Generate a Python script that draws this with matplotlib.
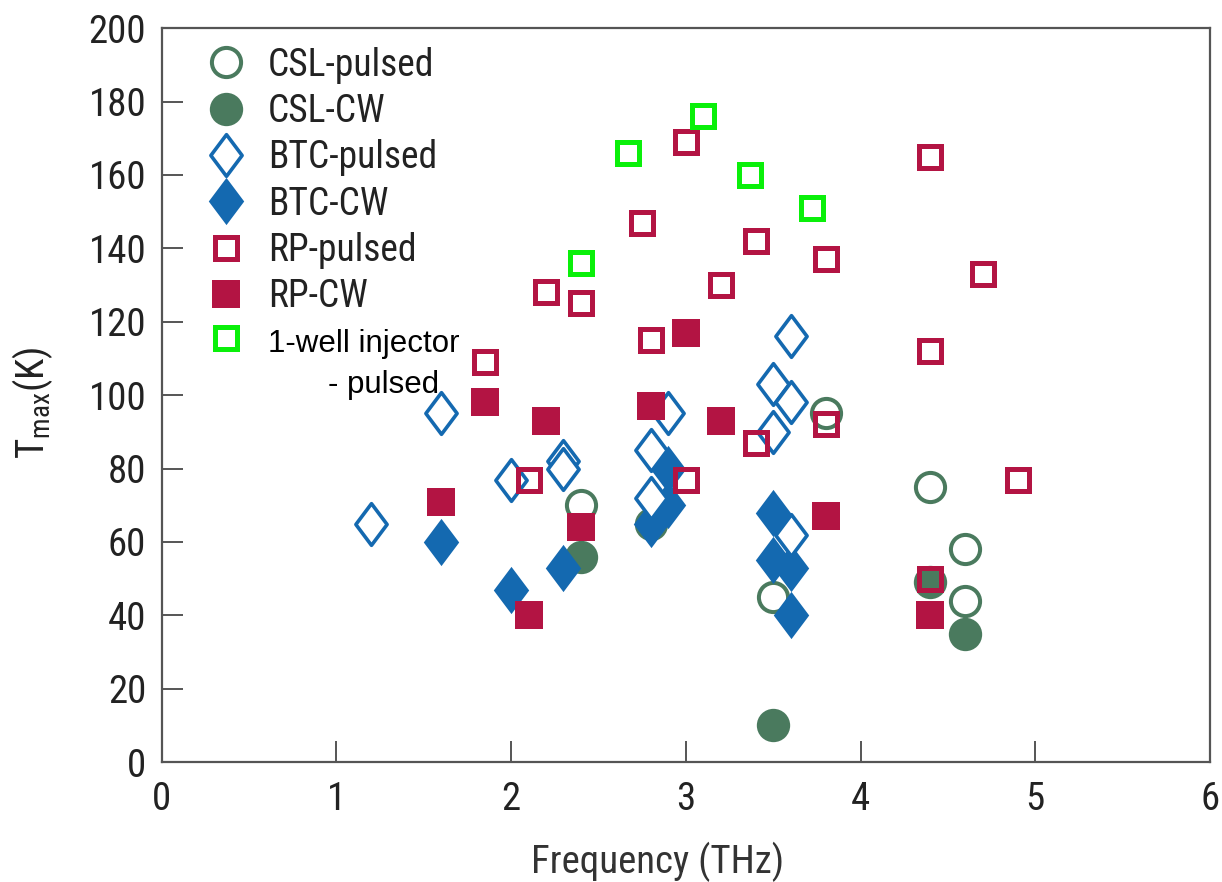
import numpy as np
import matplotlib
matplotlib.use("Agg")
import matplotlib.pyplot as plt
from matplotlib.path import Path
from matplotlib.lines import Line2D

plt.rcParams["font.family"] = ["Roboto Condensed", "DejaVu Sans"]
plt.rcParams["mathtext.fontset"] = "custom"
plt.rcParams["mathtext.rm"] = "Roboto Condensed"

# max operating temperature vs lasing frequency, per design family
csl_pulsed_f = [2.4, 3.5, 3.8, 4.4, 4.6, 4.6]
csl_pulsed_t = [70, 45, 95, 75, 58, 44]
csl_cw_f = [2.4, 2.8, 3.5, 4.4, 4.6]
csl_cw_t = [56, 65, 10, 49, 35]

btc_pulsed_f = [1.2, 1.6, 2.0, 2.3, 2.3, 2.8, 2.8, 2.9, 3.5, 3.5, 3.6, 3.6, 3.6]
btc_pulsed_t = [65, 95, 77, 82, 80, 85, 72, 95, 103, 90, 116, 98, 62]
btc_cw_f = [1.6, 2.0, 2.3, 2.8, 2.9, 2.9, 3.5, 3.5, 3.6, 3.6]
btc_cw_t = [60, 47, 53, 65, 70, 80, 68, 55, 53, 40]

rp_pulsed_f = [1.85, 2.1, 2.2, 2.4, 2.75, 2.8, 3.0, 3.0, 3.2, 3.4, 3.4,
               3.8, 3.8, 4.4, 4.4, 4.4, 4.7, 4.9]
rp_pulsed_t = [109, 77, 128, 125, 147, 115, 169, 77, 130, 142, 87,
               137, 92, 165, 112, 50, 133, 77]
rp_cw_f = [1.6, 1.85, 2.1, 2.2, 2.4, 2.8, 3.0, 3.2, 3.8, 4.4]
rp_cw_t = [71, 98, 40, 93, 64, 97, 117, 93, 67, 40]

one_well_f = [2.4, 2.67, 3.1, 3.37, 3.72]
one_well_t = [136, 166, 176, 160, 151]

GREEN = "#4a7a5e"
BLUE = "#1469b0"
RED = "#b31443"
LIME = "#0af00a"
SPINE = "#555555"

diamond = Path([(0, 1), (0.75, 0), (0, -1), (-0.75, 0), (0, 1)], closed=True)

styles = {
    "CSL-pulsed": dict(marker="o", ms=21, mew=2.9, mec=GREEN, mfc="none"),
    "CSL-CW": dict(marker="o", ms=24, mew=0, mec=GREEN, mfc=GREEN),
    "BTC-pulsed": dict(marker=diamond, ms=30, mew=2.6, mec=BLUE, mfc="white"),
    "BTC-CW": dict(marker=diamond, ms=34, mew=0, mec=BLUE, mfc=BLUE),
    "RP-pulsed": dict(marker="s", ms=16.5, mew=3.6, mec=RED, mfc="none"),
    "RP-CW": dict(marker="s", ms=20, mew=0, mec=RED, mfc=RED),
    "1-well injector": dict(marker="s", ms=16.5, mew=3.6, mec=LIME, mfc="none"),
}

fig = plt.figure(figsize=(12.22, 8.82), dpi=100)
ax = fig.add_axes([0.1322, 0.136, 0.858, 0.832])

ax.plot(csl_pulsed_f, csl_pulsed_t, ls="none", **styles["CSL-pulsed"])
ax.plot(csl_cw_f, csl_cw_t, ls="none", **styles["CSL-CW"])
ax.plot(btc_cw_f, btc_cw_t, ls="none", **styles["BTC-CW"])
ax.plot(btc_pulsed_f, btc_pulsed_t, ls="none", **styles["BTC-pulsed"])
ax.plot(rp_pulsed_f, rp_pulsed_t, ls="none", **styles["RP-pulsed"])
ax.plot(rp_cw_f, rp_cw_t, ls="none", **styles["RP-CW"])
ax.plot(one_well_f, one_well_t, ls="none", **styles["1-well injector"])

ax.set_xlim(0, 6)
ax.set_ylim(0, 200)
ax.set_xticks(range(0, 7))
ax.set_yticks(range(0, 201, 20))
ax.tick_params(direction="in", length=15, width=1.4, color=SPINE,
               labelsize=28, labelcolor="#222222", top=False, right=False)
ax.tick_params(axis="x", pad=14)
ax.tick_params(axis="y", pad=11)
for sp in ax.spines.values():
    sp.set_color(SPINE)
    sp.set_linewidth(1.6)

ax.set_xlabel("Frequency (THz)", fontsize=28, color="#333333")
ax.xaxis.set_label_coords(0.4735, -0.108)
ax.set_ylabel(r"T$_{\mathregular{max}}$(K)", fontsize=28, color="#222222")
ax.yaxis.set_label_coords(-0.102, 0.49)

order = ["CSL-pulsed", "CSL-CW", "BTC-pulsed", "BTC-CW", "RP-pulsed", "RP-CW", "1-well injector"]
handles = [Line2D([], [], ls="none", **styles[k]) for k in order]
leg = ax.legend(handles, order, loc="upper left", bbox_to_anchor=(0.042, 0.975),
                frameon=False, fontsize=27, borderpad=0, borderaxespad=0,
                handlelength=1.11, handleheight=0.75, handletextpad=0.556,
                labelspacing=0.25)
for t in leg.get_texts()[:-1]:
    t.set_color("#222222")
leg.get_texts()[-1].set_family(["Liberation Sans", "DejaVu Sans"])
leg.get_texts()[-1].set_fontsize(22.5)
leg.get_texts()[-1].set_color("black")
ax.text(0.159, 0.514, "- pulsed", transform=ax.transAxes, fontsize=22.5,
        family=["Liberation Sans", "DejaVu Sans"], va="center", ha="left")

fig.savefig("out.png", dpi=100)
